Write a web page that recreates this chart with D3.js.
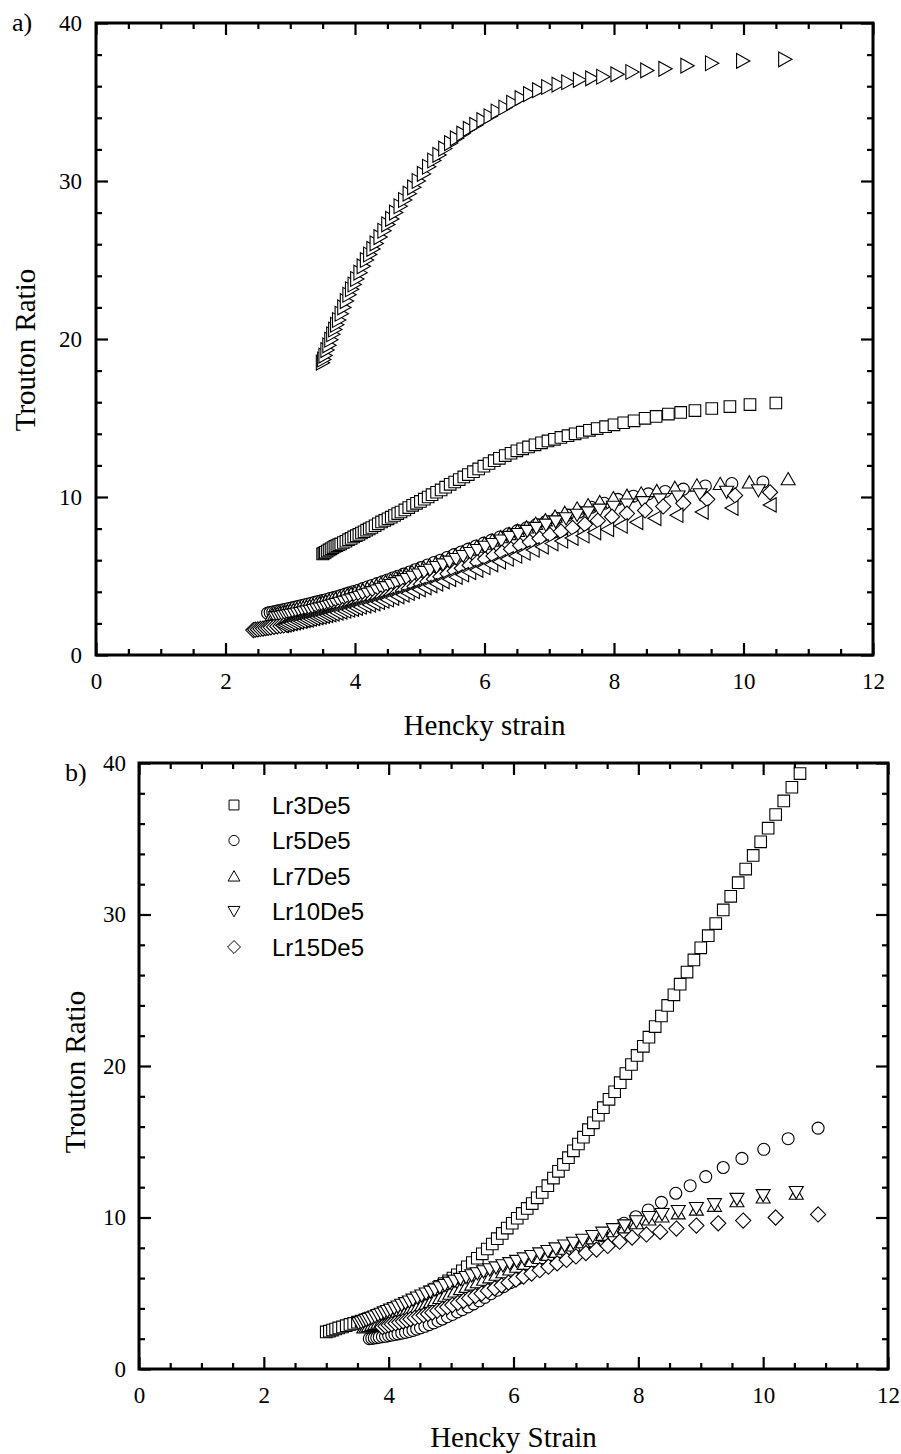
<!DOCTYPE html>
<html><head><meta charset="utf-8">
<script src="https://cdn.jsdelivr.net/npm/d3@7"></script>
<style>body{margin:0;background:#fff}svg{display:block}</style>
</head><body>
<script>
// ---------- tick labels ----------
const xMajor = [0, 2, 4, 6, 8, 10, 12];
const yMajor = [0, 10, 20, 30, 40];
const xMinor = [0.5,1,1.5,2.5,3,3.5,4.5,5,5.5,6.5,7,7.5,8.5,9,9.5,10.5,11,11.5];
const yMinor = [2,4,6,8,12,14,16,18,22,24,26,28,32,34,36,38];
const legendLabels = ["Lr3De5", "Lr5De5", "Lr7De5", "Lr10De5", "Lr15De5"];

// ---------- panel a data [Hencky strain, Trouton ratio] ----------
const aRight = [[3.50,18.5],[3.52,18.7],[3.54,18.95],[3.57,19.3],[3.60,19.6],[3.63,19.95],[3.66,20.3],[3.69,20.6],[3.72,20.9],[3.75,21.2],[3.79,21.6],[3.83,22.0],[3.87,22.4],[3.91,22.8],[3.95,23.15],[3.99,23.45],[4.03,23.8],[4.08,24.2],[4.13,24.6],[4.18,25.0],[4.23,25.35],[4.28,25.7],[4.33,26.05],[4.39,26.45],[4.45,26.85],[4.51,27.25],[4.57,27.6],[4.63,28.0],[4.70,28.4],[4.77,28.8],[4.84,29.2],[4.91,29.6],[4.98,30.0],[5.06,30.45],[5.14,30.9],[5.22,31.3],[5.30,31.65],[5.39,32.05],[5.48,32.4],[5.57,32.7],[5.67,33.0],[5.77,33.3],[5.87,33.55],[5.98,33.85],[6.09,34.1],[6.20,34.4],[6.32,34.65],[6.44,34.95],[6.57,35.25],[6.70,35.5],[6.84,35.75],[6.98,35.95],[7.14,36.1],[7.29,36.25],[7.47,36.4],[7.66,36.5],[7.83,36.6],[8.05,36.75],[8.28,36.9],[8.51,37.0],[8.79,37.1],[9.13,37.3],[9.51,37.45],[9.99,37.6],[10.64,37.7]];

const aSquare = [[10.50,15.95],[10.10,15.85],[9.79,15.72],[9.51,15.6],[9.25,15.47],[9.03,15.35],[8.84,15.25],[8.65,15.1],[8.48,14.98],[8.31,14.82],[8.15,14.7],[8.00,14.57],[7.87,14.45],[7.74,14.33],[7.62,14.22],[7.51,14.1],[7.40,14.0],[7.29,13.88],[7.18,13.77],[7.08,13.65],[6.98,13.55],[6.88,13.43],[6.78,13.3],[6.68,13.17],[6.59,13.05],[6.50,12.92],[6.41,12.77],[6.32,12.62],[6.23,12.45],[6.15,12.3],[6.07,12.12],[5.99,11.95],[5.91,11.78],[5.83,11.6],[5.75,11.42],[5.68,11.27],[5.61,11.1],[5.54,10.95],[5.47,10.8],[5.40,10.62],[5.33,10.45],[5.26,10.3],[5.19,10.15],[5.13,10.0],[5.07,9.86],[5.01,9.72],[4.95,9.6],[4.89,9.47],[4.83,9.33],[4.77,9.18],[4.71,9.05],[4.66,8.95],[4.61,8.83],[4.56,8.72],[4.51,8.62],[4.46,8.52],[4.41,8.42],[4.36,8.3],[4.31,8.18],[4.26,8.07],[4.22,7.98],[4.18,7.9],[4.14,7.8],[4.10,7.72],[4.06,7.63],[4.02,7.55],[3.98,7.47],[3.94,7.38],[3.90,7.3],[3.86,7.2],[3.82,7.12],[3.78,7.03],[3.75,6.98],[3.72,6.92],[3.69,6.87],[3.66,6.8],[3.63,6.72],[3.60,6.65],[3.57,6.58],[3.54,6.5],[3.52,6.45],[3.50,6.4]];

const aCircle = [[10.30,10.95],[9.82,10.85],[9.41,10.7],[9.07,10.5],[8.79,10.35],[8.53,10.2],[8.30,10.05],[8.06,9.85],[7.85,9.6],[7.65,9.35],[7.46,9.05],[7.28,8.85],[7.11,8.65],[6.95,8.45],[6.80,8.25],[6.65,8.05],[6.51,7.87],[6.37,7.67],[6.24,7.47],[6.11,7.27],[5.99,7.08],[5.87,6.9],[5.75,6.7],[5.64,6.52],[5.53,6.35],[5.42,6.17],[5.32,6.0],[5.22,5.85],[5.12,5.7],[5.02,5.53],[4.93,5.4],[4.84,5.25],[4.75,5.12],[4.66,4.98],[4.58,4.87],[4.50,4.75],[4.42,4.63],[4.34,4.52],[4.26,4.4],[4.19,4.3],[4.12,4.2],[4.05,4.1],[3.98,4.02],[3.91,3.93],[3.85,3.85],[3.79,3.78],[3.73,3.7],[3.67,3.63],[3.61,3.57],[3.55,3.5],[3.49,3.44],[3.43,3.38],[3.38,3.33],[3.33,3.28],[3.28,3.23],[3.23,3.18],[3.18,3.13],[3.13,3.08],[3.08,3.03],[3.03,2.98],[2.98,2.94],[2.93,2.9],[2.89,2.86],[2.85,2.82],[2.81,2.79],[2.77,2.75],[2.73,2.72],[2.69,2.69],[2.65,2.65]];

const aUp = [[10.69,11.15],[10.09,10.95],[9.64,10.85],[9.28,10.75],[8.94,10.6],[8.66,10.4],[8.42,10.25],[8.20,10.1],[7.99,9.95],[7.78,9.7],[7.60,9.5],[7.43,9.3],[7.24,9.02],[7.09,8.78],[6.94,8.55],[6.79,8.33],[6.65,8.1],[6.51,7.88],[6.38,7.68],[6.25,7.48],[6.12,7.27],[6.00,7.07],[5.88,6.88],[5.77,6.7],[5.66,6.52],[5.55,6.33],[5.45,6.17],[5.35,6.0],[5.25,5.85],[5.15,5.7],[5.06,5.55],[4.97,5.42],[4.88,5.28],[4.79,5.13],[4.71,5.0],[4.63,4.88],[4.55,4.75],[4.47,4.63],[4.40,4.52],[4.33,4.42],[4.26,4.32],[4.19,4.22],[4.12,4.12],[4.06,4.03],[4.00,3.95],[3.94,3.88],[3.88,3.8],[3.82,3.72],[3.76,3.65],[3.70,3.58],[3.65,3.52],[3.60,3.46],[3.55,3.4],[3.50,3.34],[3.45,3.28],[3.40,3.22],[3.35,3.17],[3.30,3.12],[3.25,3.07],[3.20,3.02],[3.15,2.97],[3.10,2.92],[3.05,2.87],[3.00,2.82],[2.96,2.78],[2.92,2.74],[2.88,2.7],[2.84,2.66],[2.80,2.62],[2.76,2.58],[2.72,2.55]];

const aDown = [[10.23,10.4],[9.74,10.3],[9.33,10.15],[8.99,10.0],[8.71,9.82],[8.45,9.65],[8.20,9.5],[7.99,9.35],[7.78,9.17],[7.60,9.0],[7.43,8.85],[7.26,8.63],[7.10,8.43],[6.95,8.22],[6.80,8.02],[6.66,7.83],[6.52,7.63],[6.39,7.45],[6.26,7.22],[6.13,7.0],[6.01,6.82],[5.89,6.62],[5.78,6.43],[5.67,6.24],[5.56,6.05],[5.46,5.88],[5.36,5.71],[5.26,5.54],[5.16,5.37],[5.07,5.22],[4.98,5.07],[4.89,4.92],[4.80,4.78],[4.72,4.65],[4.64,4.52],[4.56,4.4],[4.48,4.27],[4.41,4.16],[4.34,4.05],[4.27,3.95],[4.20,3.85],[4.13,3.75],[4.07,3.66],[4.01,3.57],[3.95,3.49],[3.89,3.42],[3.83,3.35],[3.77,3.28],[3.71,3.21],[3.66,3.15],[3.61,3.09],[3.56,3.03],[3.51,2.97],[3.46,2.92],[3.41,2.87],[3.36,2.82],[3.31,2.77],[3.26,2.73],[3.21,2.68],[3.16,2.64],[3.11,2.6],[3.06,2.56],[3.01,2.52],[2.97,2.49],[2.93,2.46],[2.89,2.43],[2.85,2.4],[2.81,2.37],[2.77,2.35]];

const aDiamond = [[10.41,10.3],[9.87,10.1],[9.44,9.85],[9.07,9.6],[8.76,9.4],[8.48,9.15],[8.20,8.95],[7.97,8.75],[7.75,8.5],[7.55,8.27],[7.36,8.04],[7.18,7.82],[7.01,7.6],[6.85,7.37],[6.70,7.15],[6.55,6.93],[6.41,6.7],[6.27,6.48],[6.14,6.27],[6.01,6.07],[5.89,5.87],[5.77,5.68],[5.65,5.49],[5.54,5.31],[5.43,5.14],[5.32,4.96],[5.22,4.8],[5.12,4.64],[5.02,4.48],[4.92,4.33],[4.83,4.19],[4.74,4.05],[4.65,3.9],[4.56,3.78],[4.48,3.67],[4.40,3.57],[4.32,3.46],[4.24,3.36],[4.16,3.25],[4.09,3.16],[4.02,3.08],[3.95,3.0],[3.88,2.92],[3.81,2.84],[3.74,2.76],[3.68,2.69],[3.62,2.61],[3.56,2.53],[3.50,2.45],[3.44,2.39],[3.38,2.33],[3.32,2.27],[3.26,2.21],[3.20,2.15],[3.15,2.1],[3.10,2.05],[3.05,2.0],[3.00,1.95],[2.95,1.91],[2.90,1.87],[2.85,1.84],[2.80,1.81],[2.75,1.78],[2.70,1.75],[2.66,1.72],[2.62,1.7],[2.58,1.67],[2.54,1.65],[2.50,1.62],[2.46,1.6],[2.43,1.58]];

const aLeft = [[10.41,9.5],[9.82,9.3],[9.36,9.05],[8.97,8.85],[8.63,8.65],[8.35,8.4],[8.11,8.17],[7.90,7.95],[7.70,7.75],[7.52,7.55],[7.35,7.4],[7.19,7.22],[7.04,7.05],[6.89,6.85],[6.75,6.65],[6.61,6.46],[6.48,6.27],[6.35,6.08],[6.23,5.9],[6.11,5.72],[5.99,5.54],[5.88,5.38],[5.77,5.23],[5.66,5.08],[5.56,4.93],[5.46,4.79],[5.36,4.65],[5.26,4.51],[5.17,4.39],[5.08,4.27],[4.99,4.14],[4.90,4.02],[4.82,3.91],[4.74,3.81],[4.66,3.7],[4.58,3.6],[4.50,3.5],[4.43,3.42],[4.36,3.34],[4.29,3.26],[4.22,3.18],[4.15,3.11],[4.08,3.04],[4.02,2.97],[3.96,2.91],[3.90,2.85],[3.84,2.79],[3.78,2.73],[3.72,2.67],[3.66,2.61],[3.61,2.56],[3.56,2.51],[3.51,2.46],[3.46,2.41],[3.41,2.37],[3.36,2.32],[3.31,2.28],[3.26,2.23],[3.21,2.19],[3.16,2.14],[3.11,2.1],[3.06,2.05],[3.01,2.01],[2.96,1.96],[2.92,1.92],[2.88,1.88]];

// ---------- panel b data ----------
const bSquare = [[3.00,2.45],[3.05,2.5],[3.10,2.57],[3.15,2.64],[3.20,2.71],[3.26,2.78],[3.32,2.86],[3.38,2.94],[3.44,3.01],[3.50,3.09],[3.56,3.16],[3.62,3.24],[3.68,3.32],[3.74,3.4],[3.80,3.48],[3.86,3.57],[3.92,3.66],[3.98,3.75],[4.05,3.85],[4.12,3.96],[4.19,4.07],[4.26,4.2],[4.33,4.33],[4.40,4.47],[4.47,4.62],[4.54,4.77],[4.61,4.93],[4.68,5.1],[4.75,5.28],[4.82,5.46],[4.89,5.64],[4.96,5.82],[5.03,6.0],[5.10,6.22],[5.18,6.48],[5.26,6.75],[5.34,7.03],[5.42,7.31],[5.50,7.6],[5.58,7.92],[5.66,8.25],[5.74,8.6],[5.82,8.95],[5.90,9.3],[5.98,9.62],[6.06,9.95],[6.14,10.27],[6.22,10.6],[6.30,10.92],[6.38,11.3],[6.46,11.65],[6.55,12.1],[6.64,12.6],[6.72,13.05],[6.80,13.5],[6.88,13.95],[6.96,14.4],[7.04,14.85],[7.12,15.3],[7.20,15.8],[7.28,16.25],[7.36,16.75],[7.44,17.25],[7.53,17.8],[7.62,18.3],[7.71,18.9],[7.80,19.5],[7.89,20.1],[7.98,20.7],[8.08,21.3],[8.17,21.9],[8.27,22.6],[8.37,23.3],[8.47,24.0],[8.57,24.7],[8.67,25.4],[8.78,26.2],[8.89,27.0],[9.00,27.8],[9.12,28.6],[9.24,29.4],[9.36,30.3],[9.48,31.2],[9.60,32.1],[9.72,33.0],[9.84,33.9],[9.96,34.8],[10.08,35.7],[10.20,36.6],[10.33,37.5],[10.46,38.4],[10.59,39.3]];

const bCircle = [[10.88,15.9],[10.40,15.2],[10.01,14.5],[9.66,13.9],[9.36,13.3],[9.08,12.7],[8.83,12.1],[8.60,11.6],[8.37,11.0],[8.16,10.5],[7.96,10.05],[7.77,9.62],[7.59,9.2],[7.42,8.8],[7.26,8.45],[7.10,8.1],[6.95,7.8],[6.81,7.52],[6.67,7.24],[6.54,6.98],[6.41,6.72],[6.29,6.47],[6.17,6.2],[6.06,5.95],[5.95,5.7],[5.84,5.44],[5.74,5.2],[5.64,4.97],[5.54,4.73],[5.45,4.5],[5.36,4.3],[5.27,4.1],[5.18,3.92],[5.10,3.77],[5.02,3.6],[4.94,3.45],[4.86,3.3],[4.79,3.17],[4.72,3.05],[4.65,2.93],[4.58,2.82],[4.51,2.72],[4.45,2.63],[4.39,2.55],[4.33,2.48],[4.27,2.42],[4.21,2.37],[4.15,2.32],[4.10,2.28],[4.05,2.24],[4.00,2.2],[3.95,2.16],[3.90,2.13],[3.85,2.1],[3.81,2.07],[3.77,2.05],[3.73,2.02],[3.69,2.0]];

const bUp = [[10.53,11.6],[10.00,11.35],[9.58,11.1],[9.22,10.8],[8.93,10.55],[8.64,10.3],[8.38,10.1],[8.17,9.9],[7.97,9.65],[7.78,9.38],[7.60,9.12],[7.43,8.88],[7.27,8.65],[7.11,8.4],[6.96,8.18],[6.82,7.97],[6.68,7.76],[6.55,7.56],[6.42,7.36],[6.29,7.16],[6.17,6.97],[6.05,6.78],[5.94,6.6],[5.83,6.42],[5.72,6.25],[5.62,6.08],[5.52,5.92],[5.42,5.76],[5.33,5.6],[5.24,5.45],[5.15,5.3],[5.06,5.15],[4.98,5.0],[4.90,4.86],[4.82,4.72],[4.74,4.58],[4.67,4.46],[4.60,4.34],[4.53,4.22],[4.46,4.1],[4.39,3.98],[4.33,3.88],[4.27,3.78],[4.21,3.68],[4.15,3.58],[4.09,3.48],[4.03,3.39],[3.98,3.31],[3.93,3.23],[3.88,3.15],[3.83,3.08],[3.78,3.01],[3.73,2.94],[3.68,2.87],[3.64,2.82],[3.60,2.77]];

const bDown = [[10.53,11.65],[10.00,11.45],[9.58,11.2],[9.22,10.85],[8.93,10.6],[8.64,10.4],[8.38,10.2],[8.17,10.0],[7.97,9.72],[7.78,9.45],[7.60,9.2],[7.43,8.97],[7.27,8.75],[7.11,8.5],[6.96,8.3],[6.82,8.12],[6.68,7.93],[6.55,7.76],[6.42,7.6],[6.29,7.43],[6.17,7.27],[6.05,7.11],[5.94,6.96],[5.83,6.82],[5.72,6.68],[5.62,6.55],[5.52,6.42],[5.42,6.29],[5.33,6.16],[5.24,6.04],[5.15,5.92],[5.06,5.8],[4.98,5.67],[4.90,5.52],[4.82,5.37],[4.74,5.22],[4.67,5.08],[4.60,4.95],[4.53,4.82],[4.46,4.69],[4.39,4.55],[4.33,4.43],[4.27,4.32],[4.21,4.21],[4.15,4.1],[4.09,3.99],[4.03,3.89],[3.98,3.8],[3.93,3.71],[3.88,3.62],[3.83,3.53],[3.78,3.44],[3.73,3.35],[3.68,3.27],[3.64,3.2],[3.60,3.13],[3.56,3.06],[3.52,3.0]];

const bDiamond = [[10.88,10.2],[10.20,10.0],[9.68,9.8],[9.28,9.62],[8.93,9.47],[8.61,9.27],[8.35,9.05],[8.13,8.88],[7.90,8.68],[7.70,8.4],[7.51,8.12],[7.33,7.88],[7.16,7.65],[7.00,7.43],[6.85,7.2],[6.70,6.97],[6.56,6.75],[6.42,6.52],[6.29,6.3],[6.16,6.1],[6.04,5.9],[5.92,5.7],[5.81,5.52],[5.70,5.33],[5.59,5.15],[5.49,4.98],[5.39,4.82],[5.29,4.66],[5.20,4.5],[5.11,4.36],[5.02,4.22],[4.94,4.09],[4.86,3.97],[4.78,3.85],[4.70,3.72],[4.63,3.63],[4.56,3.54],[4.49,3.45],[4.42,3.37],[4.35,3.29],[4.29,3.22],[4.23,3.15],[4.17,3.08],[4.11,3.02],[4.05,2.96],[4.00,2.9],[3.95,2.83],[3.90,2.77]];

// ---------- drawing ----------
const W = 901, H = 1454;
const svg = d3.select("body").append("svg").attr("width", W).attr("height", H)
  .style("background", "#fff");
svg.append("rect").attr("width", W).attr("height", H).attr("fill", "#fff");

const SERIF = "'Liberation Serif','Times New Roman',serif";
const SANS = "'Liberation Sans',Arial,sans-serif";

// custom marker shapes (size argument = half extent in px)
const poly = pts => ({draw(c, r){ c.moveTo(pts[0][0]*r, pts[0][1]*r);
  for (let i = 1; i < pts.length; i++) c.lineTo(pts[i][0]*r, pts[i][1]*r); c.closePath(); }});
const shapes = {
  square: {draw(c, r){ c.rect(-r, -r, 2*r, 2*r); }},
  circle: {draw(c, r){ c.moveTo(r, 0); c.arc(0, 0, r, 0, 2*Math.PI); }},
  up: poly([[0,-0.9],[1,0.85],[-1,0.85]]),
  down: poly([[0,0.9],[1,-0.85],[-1,-0.85]]),
  right: poly([[0.95,0],[-0.85,-1],[-0.85,1]]),
  left: poly([[-0.95,0],[0.85,-1],[0.85,1]]),
  diamond: poly([[0,-1],[1,0],[0,1],[-1,0]])
};
const shapeSize = {square: 5.8, circle: 6, up: 7, down: 7, right: 7.4, left: 7.2, diamond: 7.6};

function drawPanel(xs, ys, series, labelOpts) {
  const g = svg.append("g");
  const [x0, x1] = xs.range(), [y0, y1] = ys.range();
  const fmt = d3.format("d");
  const style = (sel) => {
    sel.select(".domain").remove();
    sel.selectAll(".tick line").attr("stroke", "#000").attr("stroke-width", 2.2);
    sel.selectAll(".tick text").attr("fill", "#000").style("font-family", SERIF).style("font-size", "23px");
  };
  // major ticks
  g.append("g").attr("transform", `translate(0,${y0})`)
    .call(d3.axisBottom(xs).tickValues(xMajor).tickSizeInner(-12).tickSizeOuter(0).tickPadding(labelOpts.xPad).tickFormat(fmt)).call(style);
  g.append("g").attr("transform", `translate(0,${y1})`)
    .call(d3.axisTop(xs).tickValues(xMajor).tickSizeInner(-12).tickSizeOuter(0).tickFormat("")).call(style);
  g.append("g").attr("transform", `translate(${x0},0)`)
    .call(d3.axisLeft(ys).tickValues(yMajor).tickSizeInner(-12).tickSizeOuter(0).tickPadding(labelOpts.yPad).tickFormat(fmt)).call(style);
  g.append("g").attr("transform", `translate(${x1},0)`)
    .call(d3.axisRight(ys).tickValues(yMajor).tickSizeInner(-12).tickSizeOuter(0).tickFormat("")).call(style);
  // minor ticks
  g.append("g").attr("transform", `translate(0,${y0})`)
    .call(d3.axisBottom(xs).tickValues(xMinor).tickSizeInner(-6).tickSizeOuter(0).tickFormat("")).call(style);
  g.append("g").attr("transform", `translate(0,${y1})`)
    .call(d3.axisTop(xs).tickValues(xMinor).tickSizeInner(-6).tickSizeOuter(0).tickFormat("")).call(style);
  g.append("g").attr("transform", `translate(${x0},0)`)
    .call(d3.axisLeft(ys).tickValues(yMinor).tickSizeInner(-6).tickSizeOuter(0).tickFormat("")).call(style);
  g.append("g").attr("transform", `translate(${x1},0)`)
    .call(d3.axisRight(ys).tickValues(yMinor).tickSizeInner(-6).tickSizeOuter(0).tickFormat("")).call(style);

  // data markers
  series.forEach(s => {
    const pts = s.data.slice().sort((a, b) => a[0] - b[0]);
    g.append("g").selectAll("path").data(pts).join("path")
      .attr("transform", d => `translate(${xs(d[0])},${ys(d[1])})`)
      .attr("d", d3.symbol().type(shapes[s.shape]).size(shapeSize[s.shape]))
      .attr("fill", "#fff").attr("stroke", "#000").attr("stroke-width", 1.1);
  });

  // frame
  g.append("rect").attr("x", x0).attr("y", y1).attr("width", x1 - x0).attr("height", y0 - y1)
    .attr("fill", "none").attr("stroke", "#000").attr("stroke-width", 3);
  return g;
}

// ---------- panel a ----------
const aX = d3.scaleLinear().domain([0, 12]).range([96, 873]);
const aY = d3.scaleLinear().domain([0, 40]).range([655, 23]);
drawPanel(aX, aY, [
  {data: aSquare, shape: "square"},
  {data: aCircle, shape: "circle"},
  {data: aUp, shape: "up"},
  {data: aDown, shape: "down"},
  {data: aDiamond, shape: "diamond"},
  {data: aLeft, shape: "left"},
  {data: aRight, shape: "right"}
], {xPad: 18, yPad: 14});

svg.append("text").attr("x", 12).attr("y", 31).text("a)")
  .style("font-family", SERIF).style("font-size", "26px");
svg.append("text").attr("transform", `translate(35,350) rotate(-90)`)
  .attr("text-anchor", "middle").text("Trouton Ratio")
  .style("font-family", SERIF).style("font-size", "29px");
svg.append("text").attr("x", (96+873)/2).attr("y", 735).attr("text-anchor", "middle")
  .text("Hencky strain").style("font-family", SERIF).style("font-size", "29px");

// ---------- panel b ----------
const bX = d3.scaleLinear().domain([0, 12]).range([139, 888]);
const bY = d3.scaleLinear().domain([0, 40]).range([1369, 763]);
drawPanel(bX, bY, [
  {data: bSquare, shape: "square"},
  {data: bCircle, shape: "circle"},
  {data: bUp, shape: "up"},
  {data: bDown, shape: "down"},
  {data: bDiamond, shape: "diamond"}
], {xPad: 18, yPad: 13});

svg.append("text").attr("x", 65).attr("y", 781).text("b)")
  .style("font-family", SERIF).style("font-size", "26px");
svg.append("text").attr("transform", `translate(85,1072) rotate(-90)`)
  .attr("text-anchor", "middle").text("Trouton Ratio")
  .style("font-family", SERIF).style("font-size", "29px");
svg.append("text").attr("x", (139+888)/2).attr("y", 1447).attr("text-anchor", "middle")
  .text("Hencky Strain").style("font-family", SERIF).style("font-size", "29px");

// legend
const legendShapes = ["square", "circle", "up", "down", "diamond"];
const legendY = d3.scalePoint().domain(legendLabels).range([805, 947]);
const lg = svg.append("g");
legendLabels.forEach((lab, i) => {
  const yy = legendY(lab);
  lg.append("path").attr("transform", `translate(234,${yy})`)
    .attr("d", d3.symbol().type(shapes[legendShapes[i]]).size(shapeSize[legendShapes[i]] * 0.85))
    .attr("fill", "#fff").attr("stroke", "#000").attr("stroke-width", 1);
  lg.append("text").attr("x", 272).attr("y", yy + 8.5).text(lab)
    .style("font-family", SANS).style("font-size", "24px");
});
</script>
</body></html>
